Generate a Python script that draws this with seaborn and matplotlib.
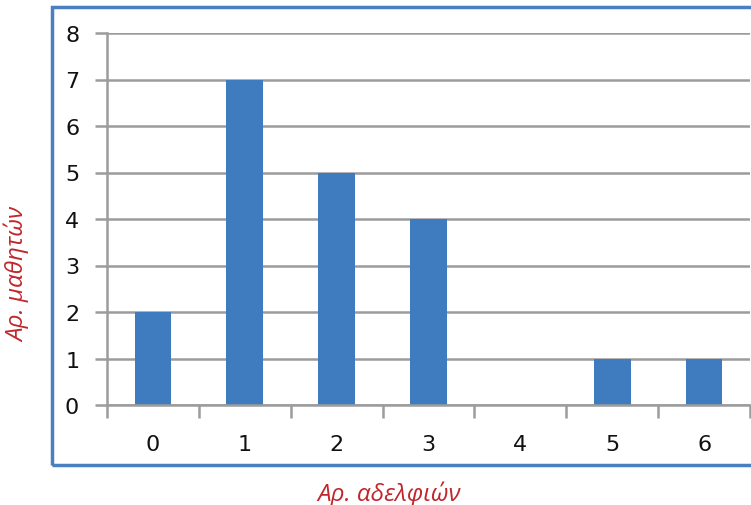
import matplotlib
matplotlib.use("Agg")
import matplotlib.pyplot as plt
import seaborn as sns
import pandas as pd
from matplotlib.patches import Rectangle

# Number of siblings (categories) and number of pupils for each
siblings = ["0", "1", "2", "3", "4", "5", "6"]
pupils = [2, 7, 5, 4, 0, 1, 1]
y_ticks = [0, 1, 2, 3, 4, 5, 6, 7, 8]

df = pd.DataFrame({"siblings": siblings, "pupils": pupils})

sns.set_theme(style="white")
plt.rcParams["font.family"] = ["DejaVu Sans"]

W, H = 751, 506
fig = plt.figure(figsize=(W / 100, H / 100), dpi=100)
ax = fig.add_axes([107 / W, 1 - 406 / H, (750 - 107) / W, (406 - 34) / H])

bar_color = "#3f7cbf"
grid_color = "#9c9c9c"
text_color = "#111111"

sns.barplot(data=df, x="siblings", y="pupils", color=bar_color, width=0.4,
            saturation=1, linewidth=0, ax=ax, zorder=3)

ax.set_xlim(-0.5, len(siblings) - 0.5)
ax.set_ylim(0, 8)
ax.set_yticks(y_ticks)
ax.set_yticklabels([str(v) for v in y_ticks])

# horizontal gridlines behind the bars
ax.set_axisbelow(True)
ax.yaxis.grid(True, color=grid_color, linewidth=1.8, zorder=0)
ax.xaxis.grid(False)

for side in ["top", "right"]:
    ax.spines[side].set_visible(False)
for side in ["left", "bottom"]:
    ax.spines[side].set_color(grid_color)
    ax.spines[side].set_linewidth(1.8)
    ax.spines[side].set_zorder(4)

# category labels in the middle, tick marks on the boundaries
ax.set_xticks(range(len(siblings)))
ax.set_xticklabels(siblings)
ax.set_xticks([i - 0.5 for i in range(len(siblings) + 1)], minor=True)
ax.tick_params(axis="x", which="major", length=0, pad=21, labelsize=16,
               labelcolor=text_color)
ax.tick_params(axis="x", which="minor", length=9, width=1.8, color=grid_color,
               direction="out", bottom=True)
ax.tick_params(axis="y", which="major", length=9, width=1.8, color=grid_color,
               direction="out", left=True, pad=11, labelsize=16,
               labelcolor=text_color)

ax.set_xlabel("")
ax.set_ylabel("")

# chart-area border
fig.patches.append(Rectangle((52 / W, 1 - 466 / H), 1.0, (466 - 8) / H,
                             transform=fig.transFigure, fill=False,
                             edgecolor="#4a7fc1", linewidth=2.5, zorder=0))

label_kw = dict(color="#c0282d", fontsize=17.5, fontstyle="italic",
                family=["Open Sans", "DejaVu Sans"])
fig.text(18 / W, 1 - 275 / H, "Αρ. μαθητών", rotation=90,
         ha="center", va="center", **label_kw)
fig.text(389 / W, 1 - 494 / H, "Αρ. αδελφιών", ha="center", va="center",
         **label_kw)

fig.savefig("out.png", dpi=100)
